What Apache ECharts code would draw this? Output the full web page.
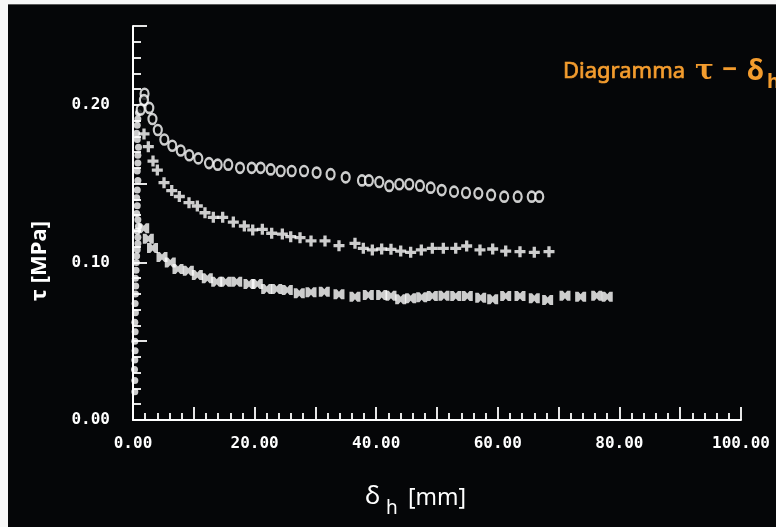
<!DOCTYPE html>
<html>
<head>
<meta charset="utf-8">
<script src="https://cdn.jsdelivr.net/npm/echarts@6/dist/echarts.min.js"></script>
<style>
  html, body { margin: 0; padding: 0; background: #050608; }
  #chart { width: 776px; height: 527px; }
</style>
</head>
<body>
<div id="chart"></div>
<script>
// ---- Data (x: δh in mm, y: τ in MPa) ----
const circleSeries = [
  [1.9,0.207],[1.8,0.203],[1.27,0.197],[2.68,0.198],[3.2,0.191],[4.08,0.184],
  [5.15,0.178],[6.46,0.174],[7.85,0.171],[9.26,0.168],[10.74,0.166],[12.5,0.163],
  [13.93,0.162],[15.67,0.162],[17.6,0.160],[19.52,0.160],[21.0,0.160],[22.65,0.159],
  [24.29,0.158],[26.1,0.158],[28.13,0.158],[30.2,0.157],[32.5,0.156],[34.98,0.154],
  [37.66,0.152],[38.8,0.152],[40.5,0.151],[42.15,0.1485],[43.8,0.1496],[45.44,0.1496],
  [47.2,0.1487],[48.96,0.1474],[50.77,0.1459],[52.8,0.1449],[54.77,0.1442],[56.8,0.1438],
  [58.9,0.1428],[61.05,0.1417],[63.27,0.1417],[65.58,0.1417],[66.82,0.1417]
];
const plusSeries = [
  [1.81,0.1815],[2.52,0.1734],[3.29,0.1643],[4.0,0.1586],[5.1,0.1506],[6.37,0.1456],
  [7.62,0.1418],[9.21,0.1379],[10.58,0.1358],[11.84,0.1315],[13.21,0.1286],[14.75,0.1286],
  [16.5,0.1256],[18.31,0.1231],[19.69,0.1206],[21.27,0.1210],[22.81,0.1185],[24.56,0.1180],
  [25.94,0.1163],[27.47,0.1157],[29.28,0.1136],[31.58,0.1136],[33.88,0.1106],[36.51,0.1121],
  [37.88,0.1089],[39.36,0.1079],[40.9,0.1085],[42.43,0.1083],[44.03,0.1072],[45.67,0.1064],
  [47.42,0.1079],[49.23,0.1089],[51.04,0.1089],[53.08,0.1089],[54.88,0.1104],[57.07,0.1079],
  [59.16,0.1085],[61.3,0.1072],[63.65,0.1068],[66.0,0.1064],[68.42,0.1068]
];
const bowtieSeries = [
  [1.76,0.1216],[2.52,0.1150],[3.21,0.1091],[4.77,0.1034],[6.13,0.0999],[7.4,0.0958],
  [9.1,0.0947],[10.58,0.0920],[12.22,0.0899],[13.77,0.0878],[15.25,0.0878],[17.06,0.0878],
  [19.08,0.0863],[20.44,0.0863],[21.99,0.0831],[23.63,0.0831],[25.38,0.0825],[27.35,0.0804],
  [29.28,0.0810],[31.46,0.0814],[33.88,0.0798],[36.51,0.0782],[38.7,0.0793],[40.9,0.0793],
  [42.43,0.0789],[44.03,0.0766],[45.67,0.0772],[47.48,0.0779],[49.23,0.0787],[51.15,0.0789],
  [53.08,0.0787],[54.98,0.0787],[57.19,0.0776],[59.16,0.0766],[61.3,0.0787],[63.65,0.0787],
  [66.0,0.0772],[68.2,0.0761],[71.05,0.0789],[73.63,0.0782],[76.27,0.0789],[78.0,0.0782]
];
const loadingSeries = [
  [0.3,0.018],[0.3,0.025],[0.25,0.032],[0.3,0.038],[0.35,0.044],[0.3,0.050],[0.35,0.056],
  [0.3,0.062],[0.4,0.068],[0.35,0.074],[0.4,0.080],[0.45,0.085],[0.4,0.090],[0.5,0.095],
  [0.55,0.100],[0.6,0.104],[0.7,0.108],[0.8,0.112],[0.8,0.116],[0.7,0.120],[0.9,0.123],
  [0.8,0.127],[0.6,0.131],[0.7,0.136],[0.6,0.141],[0.7,0.146],[0.8,0.152],[0.7,0.158],
  [0.8,0.163],[0.8,0.168],[0.9,0.173],[0.7,0.178],[0.6,0.182],[0.7,0.187],[0.8,0.191],[0.9,0.195]
];
const xTickLabels = ['0.00','20.00','40.00','60.00','80.00','100.00'];
const yTickLabels = ['0.00','0.10','0.20'];

const WHITE = '#ffffff';
const BG = '#050608';
const ORANGE = '#f39c2e';
const monoFont = "'DejaVu Sans Mono', 'Liberation Mono', monospace";
const handFont = "'Noto Sans', 'Open Sans', sans-serif";

const chart = echarts.init(document.getElementById('chart'), null, { renderer: 'canvas' });

const option = {
  backgroundColor: BG,
  animation: false,
  grid: { left: 133, top: 26, width: 608, height: 394, containLabel: false },
  xAxis: {
    type: 'value', min: 0, max: 100, interval: 10,
    axisLine: { show: true, lineStyle: { color: WHITE, width: 2 } },
    axisTick: { show: true, inside: true, length: 13, lineStyle: { color: WHITE, width: 1.8 } },
    minorTick: { show: true, splitNumber: 5, length: 7, lineStyle: { color: WHITE, width: 1.8 } },
    splitLine: { show: false },
    axisLabel: {
      color: WHITE, fontFamily: monoFont, fontSize: 16, fontWeight: 'bold', margin: 16,
      formatter: v => { const s = v.toFixed(2); return xTickLabels.includes(s) ? s : ''; }
    }
  },
  yAxis: {
    type: 'value', min: 0, max: 0.25, interval: 0.05,
    axisLine: { show: true, lineStyle: { color: WHITE, width: 2 } },
    axisTick: { show: true, inside: true, length: 14, lineStyle: { color: WHITE, width: 1.8 } },
    minorTick: { show: true, splitNumber: 5, length: 8, lineStyle: { color: WHITE, width: 1.8 } },
    splitLine: { show: false },
    axisLabel: {
      color: WHITE, fontFamily: monoFont, fontSize: 16, fontWeight: 'bold', margin: 23,
      formatter: v => { const s = v.toFixed(2); return yTickLabels.includes(s) ? s : ''; }
    }
  },
  series: [
    {
      type: 'scatter', data: loadingSeries, symbol: 'circle', symbolSize: 7,
      itemStyle: { color: WHITE }
    },
    {
      type: 'scatter', data: circleSeries, symbol: 'circle', symbolSize: [8, 10],
      itemStyle: { color: BG, borderColor: WHITE, borderWidth: 2.4 }
    },
    {
      type: 'scatter', data: plusSeries,
      symbol: 'path://M3.5,0h3v3.5h3.5v3h-3.5v3.5h-3v-3.5h-3.5v-3h3.5z', symbolSize: 11,
      itemStyle: { color: WHITE }
    },
    {
      type: 'scatter', data: bowtieSeries,
      symbol: 'path://M0,0L3,0L5,2.5L7,0L10,0L10,10L7,10L5,7.5L3,10L0,10Z', symbolSize: [11, 10],
      itemStyle: { color: WHITE }
    }
  ],
  graphic: [
    { type: 'rect', shape: { x: 0, y: 0, width: 776, height: 4 }, style: { fill: '#f7f7f7' }, silent: true },
    { type: 'rect', shape: { x: 0, y: 4, width: 776, height: 1 }, style: { fill: '#5a5a5a' }, silent: true },
    { type: 'rect', shape: { x: 0, y: 0, width: 8, height: 527 }, style: { fill: '#f7f7f7' }, silent: true },
    // title
    { type: 'text', x: 563, y: 61, style: { text: 'Diagramma', fill: ORANGE, stroke: ORANGE, lineWidth: 0.7, font: "22px " + handFont } },
    { type: 'text', x: 695, y: 58, style: { text: 'τ', fill: ORANGE, font: "bold 28px 'DejaVu Serif', serif" } },
    { type: 'text', x: 722, y: 58, style: { text: '−', fill: ORANGE, font: "bold 26px " + handFont } },
    { type: 'text', x: 747, y: 58, style: { text: 'δ', fill: ORANGE, font: "bold 28px " + handFont } },
    { type: 'text', x: 767, y: 72, style: { text: 'h', fill: ORANGE, font: "bold 20px " + handFont } },
    // x axis name
    { type: 'text', x: 365, y: 484, style: { text: 'δ', fill: WHITE, font: "26px " + handFont } },
    { type: 'text', x: 386, y: 499, style: { text: 'h', fill: WHITE, font: "19px " + handFont } },
    { type: 'text', x: 408, y: 487, style: { text: '[mm]', fill: WHITE, font: "23px " + handFont } },
    // y axis name
    { type: 'text', x: 40, y: 261, rotation: Math.PI / 2,
      style: { text: 'τ [MPa]', fill: WHITE, font: "bold 22px " + handFont, align: 'center', verticalAlign: 'middle' } }
  ]
};
chart.setOption(option);
</script>
</body>
</html>
